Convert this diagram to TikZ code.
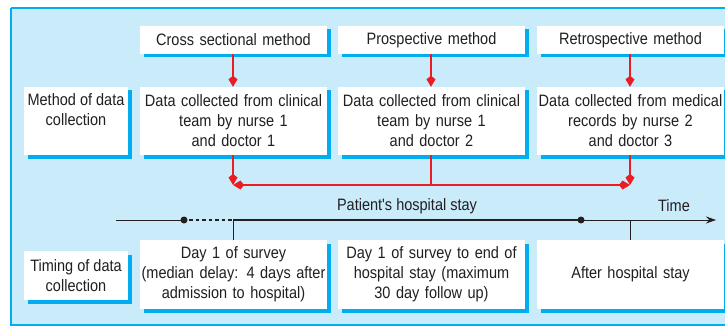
\documentclass[tikz,border=0pt]{standalone}
\usepackage{fontspec}
\setmainfont[FakeStretch=0.88]{Liberation Sans}
\usetikzlibrary{shadows,arrows.meta}
\definecolor{panelfill}{RGB}{201,235,250}
\definecolor{cyanline}{RGB}{0,174,239}
\definecolor{redline}{RGB}{237,28,36}
\definecolor{ink}{RGB}{35,31,32}
\tikzset{
  box/.style={fill=white, draw=none, inner sep=0pt, align=center, text=ink,
    font=\fontsize{16.5}{20}\selectfont,
    general shadow={fill=cyanline, shadow xshift=3.5pt, shadow yshift=-3.5pt}},
  colbox/.style={box, minimum width=187pt, text width=185pt},
  redarr/.style={draw=redline, line width=1.3pt, -{Kite[length=11pt,width=9pt,inset=3.5pt]}},
  redln/.style={draw=redline, line width=1.3pt},
  lbl/.style={text=ink, font=\fontsize{16.5}{20}\selectfont, inner sep=0pt},
}
\begin{document}
\begin{tikzpicture}[x=1pt,y=-1pt]
\useasboundingbox (0,0) rectangle (725,326);
\fill[panelfill] (11,8) rectangle (735,325);
\draw[cyanline, line width=1.5pt] (11,8) -- (735,8) (11,8) -- (11,325) -- (735,325);
% headers
\node[colbox, minimum height=28pt] (h1) at (233.5,40) {Cross sectional method};
\node[colbox, minimum height=28pt] (h2) at (431.5,40) {Prospective method};
\node[colbox, minimum height=28pt] (h3) at (630.5,40) {Retrospective method};
% method row
\node[box, minimum width=104pt, minimum height=68pt] (lab1) at (76,121) {};
\node[lbl, align=center, anchor=north] (lab1t) at (76,93) {Method of data\\collection};
\node[colbox, minimum height=68pt] (d1) at (233.5,121) {Data collected from clinical\\team by nurse 1\\and doctor 1};
\node[colbox, minimum height=68pt] (d2) at (431.5,121) {Data collected from clinical\\team by nurse 1\\and doctor 2};
\node[colbox, minimum height=68pt] (d3) at (630.5,121) {Data collected from medical\\records by nurse 2\\and doctor 3};
% timing row
\node[box, minimum width=104pt, minimum height=49pt] (lab2) at (76,275.5) {Timing of data\\collection};
\node[colbox, minimum height=69pt] (b1) at (233.5,274.5) {Day 1 of survey\\(median delay: 4 days after\\admission to hospital)};
\node[colbox, minimum height=69pt] (b2) at (431.5,274.5) {Day 1 of survey to end of\\hospital stay (maximum\\30 day follow up)};
\node[colbox, minimum height=69pt] (b3) at (630.5,274.5) {After hospital stay};
% red arrows
\draw[redarr] (h1.south -| 233,0) -- (d1.north -| 233,0);
\draw[redarr] (h2.south -| 431,0) -- (d2.north -| 431,0);
\draw[redarr] (h3.south -| 630,0) -- (d3.north -| 630,0);
\coordinate (m1) at (233,185);
\coordinate (m2) at (431,185);
\coordinate (m3) at (630,185);
\draw[redarr] (d1.south -| m1) -- (m1);
\draw[redarr] (d3.south -| m3) -- (m3);
\draw[redln] (d2.south -| m2) -- (m2);
\draw[redarr] (m2) -- (m1);
\draw[redarr] (m2) -- (m3);
% timeline
\coordinate (t0) at (116,220);
\coordinate (ta) at (184,220);
\coordinate (t1) at (233,220);
\coordinate (tb) at (581,220);
\coordinate (t3) at (630,220);
\coordinate (tend) at (716,220);
\draw[ink, line width=0.9pt] (t0) -- (ta);
\draw[ink, line width=2pt, dash pattern=on 3.5pt off 3pt] (ta) ++(5,0) -- (t1);
\draw[ink, line width=2.2pt] (t1) -- (tb);
\draw[ink, line width=0.9pt, -{Stealth[length=10pt,width=7pt]}] (tb) -- (tend);
\fill[ink] (ta) circle (3.5pt);
\fill[ink] (tb) circle (3.5pt);
\draw[ink, line width=0.9pt] (t1) -- (b1.north -| t1);
\draw[ink, line width=0.9pt] (t3) -- (b3.north -| t3);
\node[lbl] (stay) at (407,206) {Patient{\addfontfeatures{Ligatures=TeXOff}'}s hospital stay};
\node[lbl] (time) at (674,206) {Time};
\end{tikzpicture}
\end{document}
